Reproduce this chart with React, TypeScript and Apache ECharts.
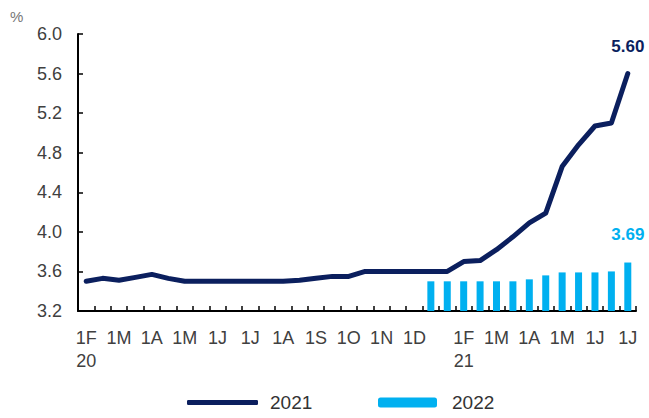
import React, { useEffect, useRef } from "react";
import * as echarts from "echarts";

const xLabels: string[] = [
  "1F\n20", "", "1M", "", "1A", "", "1M", "", "1J", "", "1J", "", "1A", "", "1S", "", "1O",
  "", "1N", "", "1D", "", "", "1F\n21", "", "1M", "", "1A", "", "1M", "", "1J", "", "1J",
];

const line2021: number[] = [
  3.50, 3.53, 3.51, 3.54, 3.57, 3.53, 3.50,
  3.50, 3.50, 3.50, 3.50, 3.50, 3.50, 3.51,
  3.53, 3.55, 3.55, 3.60, 3.60, 3.60, 3.60,
  3.60, 3.60, 3.70, 3.71, 3.82, 3.95, 4.09,
  4.19, 4.66, 4.88, 5.07, 5.10, 5.60,
];

const barStartIndex = 21;
const bar2022: number[] = [3.50, 3.50, 3.50, 3.50, 3.50, 3.50, 3.52, 3.56, 3.59, 3.59, 3.59, 3.60, 3.69];

const yMin = 3.2;
const yMax = 6.0;
const yStep = 0.4;

const NAVY = "#0b1f5e";
const CYAN = "#00b0f0";
const FONT = "'Liberation Sans', Arial, sans-serif";

export default function App() {
  const ref = useRef<HTMLDivElement>(null);

  useEffect(() => {
    if (!ref.current) return;
    const chart = echarts.init(ref.current, undefined, { renderer: "svg" });

    const lineData = line2021.map((v, i) =>
      i === line2021.length - 1
        ? {
            value: v,
            label: {
              show: true,
              position: "top",
              distance: 18,
              formatter: (p: any) => Number(p.value).toFixed(2),
              color: NAVY,
              fontWeight: "bold",
              fontSize: 17,
              fontFamily: FONT,
            },
          }
        : v
    );

    const barData: any[] = xLabels.map(() => null);
    bar2022.forEach((v, i) => {
      const idx = barStartIndex + i;
      barData[idx] =
        i === bar2022.length - 1
          ? {
              value: v,
              label: {
                show: true,
                position: "top",
                distance: 20,
                formatter: (p: any) => Number(p.value).toFixed(2),
                color: CYAN,
                fontWeight: "bold",
                fontSize: 17,
                fontFamily: FONT,
              },
            }
          : v;
    });

    chart.setOption({
      animation: false,
      backgroundColor: "#ffffff",
      grid: { left: 78, right: 13, top: 34, bottom: 107, containLabel: false },
      xAxis: {
        type: "category",
        data: xLabels,
        boundaryGap: true,
        axisLine: { show: true, lineStyle: { color: "#000", width: 2 } },
        axisTick: { show: true, inside: true, interval: 0, length: 5, lineStyle: { color: "#000", width: 1.5 } },
        axisLabel: {
          interval: 0,
          fontSize: 18,
          lineHeight: 23,
          margin: 15,
          color: "#404040",
          fontFamily: FONT,
        },
        splitLine: { show: false },
      },
      yAxis: {
        type: "value",
        min: yMin,
        max: yMax,
        interval: yStep,
        axisLine: { show: true, lineStyle: { color: "#000", width: 2 } },
        axisTick: { show: true, inside: true, length: 5, lineStyle: { color: "#000", width: 1.5 } },
        axisLabel: {
          fontSize: 18,
          margin: 16,
          color: "#404040",
          fontFamily: FONT,
          formatter: (v: number) => v.toFixed(1),
        },
        splitLine: { show: false },
      },
      legend: [
        {
          data: ["2021"],
          left: 187,
          top: 393,
          padding: 0,
          icon: "roundRect",
          itemWidth: 71,
          itemHeight: 5,
          textStyle: { fontSize: 19, color: "#333", fontFamily: FONT, padding: [0, 0, 0, 7] },
        },
        {
          data: ["2022"],
          left: 378,
          top: 393,
          padding: 0,
          icon: "roundRect",
          itemWidth: 59,
          itemHeight: 10,
          textStyle: { fontSize: 19, color: "#333", fontFamily: FONT, padding: [0, 0, 0, 10] },
        },
      ],
      graphic: [
        {
          type: "text",
          left: 10,
          top: 9,
          style: { text: "%", fontSize: 15, fill: "#777", fontFamily: FONT },
        },
      ],
      series: [
        {
          name: "2022",
          type: "bar",
          data: barData,
          barWidth: 7,
          itemStyle: { color: CYAN },
          z: 2,
        },
        {
          name: "2021",
          type: "line",
          data: lineData,
          symbol: "circle",
          symbolSize: 1,
          showSymbol: true,
          itemStyle: { color: NAVY },
          lineStyle: { color: NAVY, width: 5, cap: "round", join: "round" },
          z: 3,
        },
      ],
    });

    return () => chart.dispose();
  }, []);

  return (
    <div
      ref={ref}
      style={{ position: "absolute", left: 0, top: 0, width: 649, height: 418, background: "#fff" }}
    />
  );
}
